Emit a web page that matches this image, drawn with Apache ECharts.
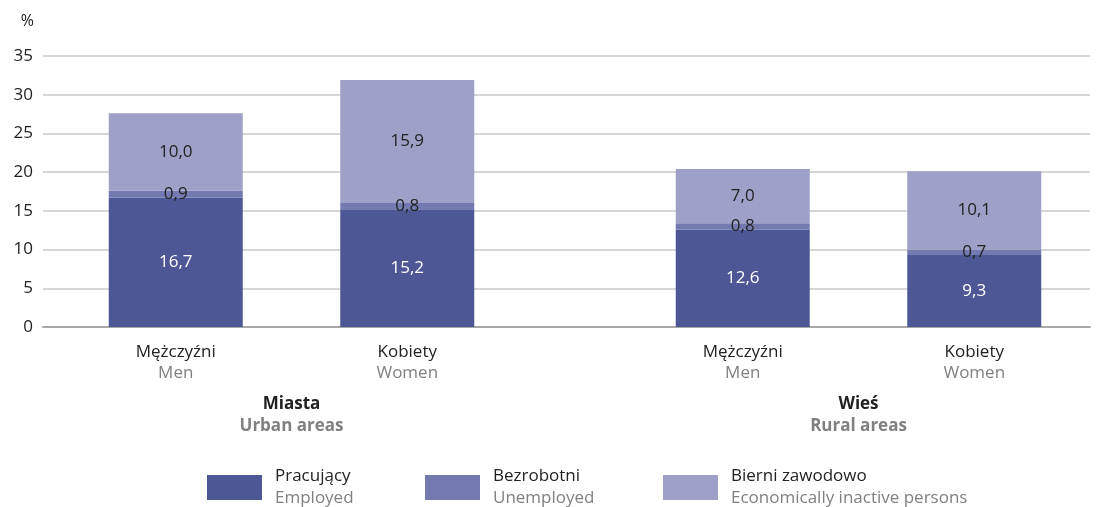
<!DOCTYPE html>
<html>
<head>
<meta charset="utf-8">
<script src="https://cdn.jsdelivr.net/npm/echarts@6/dist/echarts.min.js"></script>
<style>
  html, body { margin: 0; padding: 0; background: #fff; }
  #chart { width: 1097px; height: 507px; }
</style>
</head>
<body>
<div id="chart"></div>
<script>
// data
const categories = ['Mężczyźni', 'Kobiety'];
const categoriesEn = ['Men', 'Women'];
const groups = ['Miasta', 'Wieś'];
const groupsEn = ['Urban areas', 'Rural areas'];
const seriesNames = ['Pracujący', 'Bezrobotni', 'Bierni zawodowo'];
const seriesNamesEn = ['Employed', 'Unemployed', 'Economically inactive persons'];
const employed = [16.7, 15.2, 12.6, 9.3];     // urban men, urban women, rural men, rural women
const unemployed = [0.9, 0.8, 0.8, 0.7];
const inactive = [10.0, 15.9, 7.0, 10.1];
const yTicks = { min: 0, max: 35, interval: 5 };

const colors = ['#4d5796', '#7479b0', '#9ea0c8'];
const FONT = 'Open Sans';
const FS = 17;

const chart = echarts.init(document.getElementById('chart'));

const fmt = (v) => v.toFixed(1).replace('.', ',');

const bySeries = [employed, unemployed, inactive];

const grids = [
  { left: 43, right: 7, top: 56, bottom: 180 },        // background grid with y axis
  { left: 60, right: 574, top: 56, bottom: 180 },      // urban
  { left: 627, right: 7, top: 56, bottom: 180 }        // rural
];

const xAxes = [
  {
    gridIndex: 0, type: 'value', min: 0, max: 1,
    axisLine: { show: true, lineStyle: { color: '#a8a8a8', width: 2 } },
    axisTick: { show: false }, axisLabel: { show: false }, splitLine: { show: false }
  }
];
const yAxes = [
  {
    gridIndex: 0, type: 'value', min: yTicks.min, max: yTicks.max, interval: yTicks.interval,
    name: '%', nameLocation: 'end', nameGap: 27,
    nameTextStyle: { color: '#222', fontFamily: FONT, fontSize: 16, align: 'right', padding: [0, 9, 0, 0] },
    axisLine: { show: false }, axisTick: { show: false },
    axisLabel: { color: '#222', fontFamily: FONT, fontSize: FS, margin: 10 },
    splitLine: { lineStyle: { color: '#c8c8c8', width: 1.5 } }
  }
];

const series = [];

[0, 1].forEach((g) => {
  const gi = g + 1;
  xAxes.push({
    gridIndex: gi, type: 'category', data: categories,
    axisLine: { show: false }, axisTick: { show: false },
    axisLabel: {
      margin: 15,
      formatter: (v, i) => '{a|' + v + '}\n{b|' + categoriesEn[i] + '}',
      rich: {
        a: { color: '#222', fontFamily: FONT, fontSize: FS, lineHeight: 21 },
        b: { color: '#808080', fontFamily: FONT, fontSize: FS, lineHeight: 21 }
      }
    }
  });
  xAxes.push({
    gridIndex: gi, type: 'category', data: [groups[g]], position: 'bottom', offset: 57,
    axisLine: { show: false }, axisTick: { show: false },
    axisLabel: {
      margin: 9,
      formatter: (v) => '{a|' + v + '}\n{b|' + groupsEn[g] + '}',
      rich: {
        a: { color: '#222', fontFamily: FONT, fontSize: FS, fontWeight: 'bold', lineHeight: 22 },
        b: { color: '#808080', fontFamily: FONT, fontSize: FS, fontWeight: 'bold', lineHeight: 22 }
      }
    }
  });
  yAxes.push({
    gridIndex: gi, type: 'value', min: yTicks.min, max: yTicks.max, interval: yTicks.interval,
    show: false, splitLine: { show: false }
  });
  const xIdx = xAxes.length - 2;
  const yIdx = yAxes.length - 1;
  seriesNames.forEach((name, s) => {
    series.push({
      name: name,
      type: 'bar',
      stack: 'g' + g,
      xAxisIndex: xIdx,
      yAxisIndex: yIdx,
      barWidth: 134,
      itemStyle: { color: colors[s] },
      label: {
        show: true, position: 'inside',
        color: s === 0 ? '#fff' : '#222',
        fontFamily: FONT, fontSize: FS,
        formatter: (p) => fmt(p.value)
      },
      data: bySeries[s].slice(g * 2, g * 2 + 2)
    });
  });
});

const legendLefts = [207, 425, 663];
const legends = seriesNames.map((name, i) => ({
  left: legendLefts[i], top: 468, padding: 0,
  data: [{ name: name, icon: 'rect' }],
  itemWidth: 55, itemHeight: 25,
  selectedMode: false,
  formatter: (n) => '{a|' + n + '}\n{b|' + seriesNamesEn[i] + '}',
  textStyle: {
    padding: [0, 0, 0, 8],
    rich: {
      a: { color: '#222', fontFamily: FONT, fontSize: FS, lineHeight: 22 },
      b: { color: '#808080', fontFamily: FONT, fontSize: FS, lineHeight: 22 }
    }
  }
}));

chart.setOption({
  animation: false,
  grid: grids,
  xAxis: xAxes,
  yAxis: yAxes,
  legend: legends,
  series: series
});
</script>
</body>
</html>
